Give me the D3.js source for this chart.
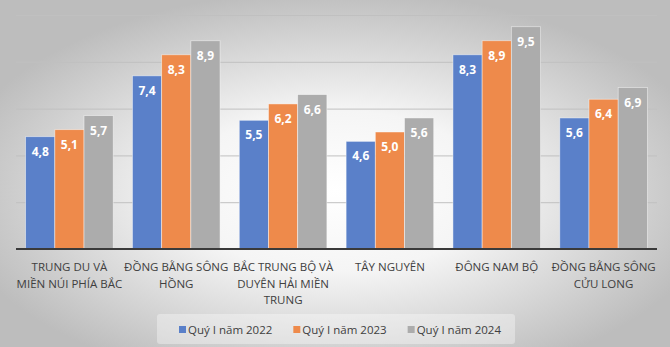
<!DOCTYPE html>
<html>
<head>
<meta charset="utf-8">
<script src="https://cdn.jsdelivr.net/npm/d3@7"></script>
<style>
  html, body { margin: 0; padding: 0; }
  body { width: 670px; height: 347px; overflow: hidden; }
</style>
</head>
<body>
<svg id="chart" width="670" height="347"></svg>
<script>
// du lieu
var categories = ["TRUNG DU VÀ\nMIỀN NÚI PHÍA BẮC", "ĐỒNG BẰNG SÔNG\nHỒNG", "BẮC TRUNG BỘ VÀ\nDUYÊN HẢI MIỀN\nTRUNG",
                  "TÂY NGUYÊN", "ĐÔNG NAM BỘ", "ĐỒNG BẰNG SÔNG\nCỬU LONG"];
var seriesNames = ["Quý I năm 2022", "Quý I năm 2023", "Quý I năm 2024"];
var values2022 = [4.8, 7.4, 5.5, 4.6, 8.3, 5.6];
var values2023 = [5.1, 8.3, 6.2, 5.0, 8.9, 6.4];
var values2024 = [5.7, 8.9, 6.6, 5.6, 9.5, 6.9];
var gridTicks = [2, 4, 6, 8, 10];
var colors = ["#5a80c9", "#ee8a4b", "#acacac"];

var allValues = [values2022, values2023, values2024];
var font = "'Open Sans', 'Noto Sans', sans-serif";
var svg = d3.select("#chart");

// nen gradient
var defs = svg.append("defs");
var grad = defs.append("radialGradient").attr("id", "bg")
	.attr("cx", "50%").attr("cy", "55%").attr("r", "58%");
grad.append("stop").attr("offset", "0%").attr("stop-color", "#ffffff");
grad.append("stop").attr("offset", "40%").attr("stop-color", "#f5f5f5");
grad.append("stop").attr("offset", "100%").attr("stop-color", "#bdbdbd");
svg.append("rect").attr("width", 670).attr("height", 347).attr("fill", "url(#bg)");

var x0 = d3.scaleBand().domain(d3.range(categories.length)).range([16, 657])
	.paddingInner(0.18).paddingOuter(0.09);
var x1 = d3.scaleBand().domain(d3.range(seriesNames.length)).range([0, x0.bandwidth()]);
var y = d3.scaleLinear().domain([0, 10]).range([249, 15]);

// luoi
svg.append("g").selectAll("line").data(gridTicks).enter().append("line")
	.attr("x1", 16).attr("x2", 657)
	.attr("y1", function(d) { return y(d) + 0.5; })
	.attr("y2", function(d) { return y(d) + 0.5; })
	.attr("stroke", "#c0c0c0").attr("stroke-width", 1);

// cot
var groups = svg.append("g").selectAll("g").data(categories).enter().append("g")
	.attr("transform", function(d, i) { return "translate(" + x0(i) + ",0)"; });

groups.each(function(c, i) {
	var g = d3.select(this);
	var rows = allValues.map(function(vals, s) { return { s: s, v: vals[i] }; });
	g.selectAll("rect").data(rows).enter().append("rect")
		.attr("x", function(d) { return x1(d.s); })
		.attr("y", function(d) { return y(d.v); })
		.attr("width", x1.bandwidth())
		.attr("height", function(d) { return y(0) - y(d.v); })
		.attr("fill", function(d) { return colors[d.s]; })
		.attr("stroke", "rgba(255,255,255,0.55)").attr("stroke-width", 0.8);
	g.selectAll("text").data(rows).enter().append("text")
		.attr("x", function(d) { return x1(d.s) + x1.bandwidth() / 2; })
		.attr("y", function(d) { return y(d.v) + 19; })
		.attr("text-anchor", "middle")
		.attr("font-family", font).attr("font-size", 12).attr("font-weight", "bold")
		.attr("fill", "#ffffff")
		.text(function(d) { return d3.format(".1f")(d.v).replace(".", ","); });
});

// truc x
var xAxis = d3.axisBottom(x0).tickSize(0).tickFormat("");
svg.append("g").attr("transform", "translate(0," + y(0) + ")").call(xAxis)
	.select(".domain").attr("stroke", "#3a3a3a").attr("stroke-width", 2)
	.attr("d", "M16,0H657");

svg.append("g").selectAll("text").data(categories).enter().append("text")
	.attr("text-anchor", "middle")
	.attr("font-family", font).attr("font-size", 11.5).attr("fill", "#404040")
	.attr("transform", function(d, i) { return "translate(" + (x0(i) + x0.bandwidth() / 2) + ",271)"; })
	.each(function(d) {
		var t = d3.select(this);
		d.split("\n").forEach(function(line, k) {
			t.append("tspan").attr("x", 0).attr("y", k * 16.5).text(line);
		});
	});

// chu thich
var legendBox = svg.append("rect").attr("x", 157).attr("y", 314).attr("width", 358).attr("height", 30)
	.attr("rx", 3).attr("fill", "#ffffff").attr("fill-opacity", 0.35);
var legend = svg.append("g");
var lx = 179;
seriesNames.forEach(function(name, s) {
	var item = legend.append("g").attr("transform", "translate(" + lx + ",0)");
	item.append("rect").attr("x", 0).attr("y", 326).attr("width", 7).attr("height", 7).attr("fill", colors[s]);
	var txt = item.append("text").attr("x", 9).attr("y", 333.5)
		.attr("font-family", font).attr("font-size", 11.5).attr("fill", "#404040").text(name);
	lx += 9 + txt.node().getComputedTextLength() + 21;
});
</script>
</body>
</html>
